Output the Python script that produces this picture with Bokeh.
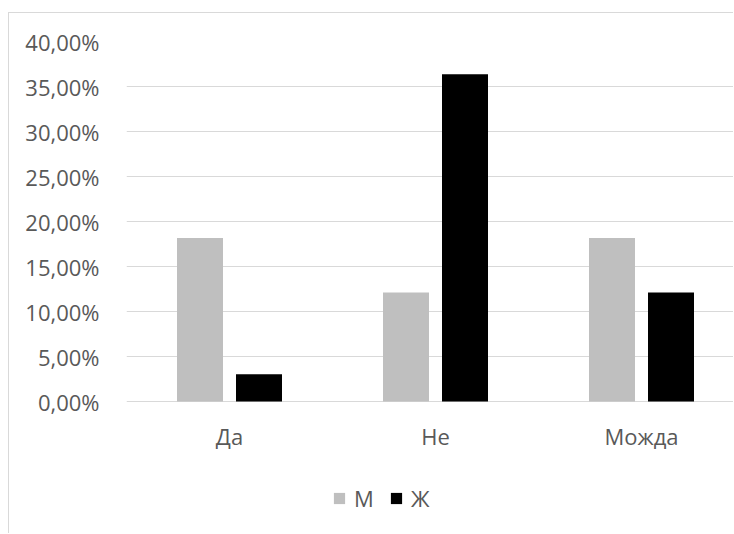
from bokeh.plotting import figure
from bokeh.models import Range1d, FixedTicker, Legend, LegendItem, ColumnDataSource
from bokeh.embed import file_html
from bokeh.resources import INLINE

categories = ["Да", "Не", "Можда"]
series_names = ["М", "Ж"]
m_values = [0.1818, 0.1212, 0.1818]
z_values = [0.0303, 0.3636, 0.1212]
y_ticks = [0.0, 0.05, 0.10, 0.15, 0.20, 0.25, 0.30, 0.35, 0.40]

FONT = "Open Sans"
TXT = "#595959"
GRID = "#d9d9d9"

cat_px = 206.0
frame_w = 734 - 126
fig_h = 521
top_b = 28
px_per_unit = 900.0
centers = [i + 0.5 for i in range(len(categories))]
off = 29.5 / cat_px
bw = 46.0 / cat_px
y_start = 0.40 - (fig_h - top_b) / px_per_unit

p = figure(width=725, height=fig_h, output_backend="svg", toolbar_location=None,
           x_range=Range1d(0, frame_w / cat_px), y_range=Range1d(y_start, 0.40),
           min_border_left=117, min_border_right=0, min_border_top=top_b, min_border_bottom=0,
           styles={"margin-left": "8px", "margin-top": "12px",
                   "border-left": "1px solid #d9d9d9", "border-top": "1px solid #d9d9d9"})
p.outline_line_color = None
p.background_fill_color = "white"
p.border_fill_color = "white"

src = ColumnDataSource(dict(xm=[c - off for c in centers], xz=[c + off for c in centers],
                            m=m_values, z=z_values))
rm = p.vbar(x="xm", top="m", width=bw, source=src, fill_color="#bfbfbf", line_color=None)
rz = p.vbar(x="xz", top="z", width=bw, source=src, fill_color="#000000", line_color=None)

p.xgrid.visible = False
p.ygrid.grid_line_color = GRID
p.ygrid.grid_line_width = 1
p.ygrid.ticker = FixedTicker(ticks=y_ticks)

p.yaxis.ticker = FixedTicker(ticks=y_ticks)
p.yaxis.major_label_overrides = {t: ("%.2f" % (t * 100)).replace(".", ",") + "%" for t in y_ticks}
p.yaxis.axis_line_color = None
p.yaxis.major_tick_line_color = None
p.yaxis.minor_tick_line_color = None
p.yaxis.major_label_standoff = 21
p.yaxis.major_label_text_font = FONT
p.yaxis.major_label_text_font_size = "22px"
p.yaxis.major_label_text_color = TXT

p.xaxis.fixed_location = 0
p.xaxis.ticker = FixedTicker(ticks=centers)
p.xaxis.major_label_overrides = {c: n for c, n in zip(centers, categories)}
p.xaxis.axis_line_color = None
p.xaxis.major_tick_line_color = None
p.xaxis.minor_tick_line_color = None
p.xaxis.major_label_standoff = 13
p.xaxis.major_label_text_font = FONT
p.xaxis.major_label_text_font_size = "22px"
p.xaxis.major_label_text_color = TXT

legend = Legend(items=[LegendItem(label=series_names[0], renderers=[rm]),
                       LegendItem(label=series_names[1], renderers=[rz])],
                orientation="horizontal", location=(206, 21),
                glyph_width=14, glyph_height=14, label_standoff=8, spacing=15,
                padding=0, margin=0, border_line_color=None, background_fill_alpha=0,
                label_text_font=FONT, label_text_font_size="22px", label_text_color=TXT,
                label_height=14)
p.add_layout(legend, "center")

open("out.html", "w").write(file_html(p, INLINE))
